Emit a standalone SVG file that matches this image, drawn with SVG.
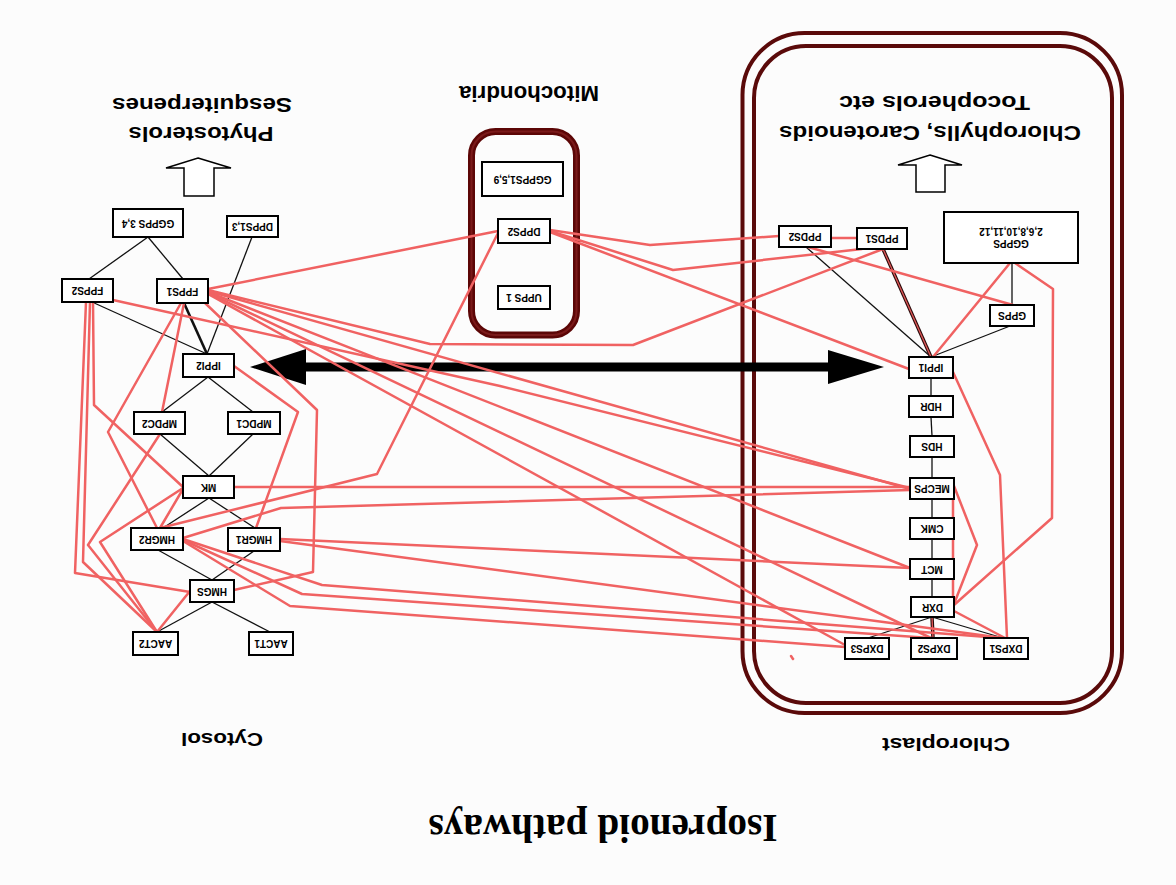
<svg xmlns="http://www.w3.org/2000/svg" width="1176" height="885" viewBox="0 0 1176 885">
  <style>
    .box { fill: #ffffff; stroke: #000000; stroke-width: 2; }
    .lbl { font-family: "Liberation Sans", Arial, sans-serif; font-weight: bold; font-size: 10px; text-anchor: middle; dominant-baseline: central; fill: #000; }
    .big { font-family: "Liberation Sans", Arial, sans-serif; font-weight: bold; text-anchor: middle; dominant-baseline: central; fill: #000; }
    .title { font-family: "Liberation Serif", "Times New Roman", serif; font-weight: bold; font-size: 40px; text-anchor: middle; dominant-baseline: central; fill: #000; }
    .red { fill: none; stroke: #f06262; stroke-width: 2.5; stroke-linejoin: round; stroke-linecap: round; }
    .blk { fill: none; stroke: #111111; stroke-width: 1.3; }
    .blkb { fill: none; stroke: #111111; stroke-width: 2.6; }
    .dual { fill: none; stroke: #2a0a0a; stroke-width: 3.5; }
    .dualin { fill: none; stroke: #e05858; stroke-width: 1.3; }
    .wall { fill: none; stroke: #5a0a0a; stroke-width: 4; }
    .hollow { fill: #ffffff; stroke: #000000; stroke-width: 1.5; stroke-linejoin: miter; }
  </style>

  <rect x="0" y="0" width="1176" height="885" fill="#fcfcfc"/>

  <!-- compartments -->
  <g id="chloroplast">
    <rect class="wall" x="742.5" y="33" width="379.5" height="680" rx="62"/>
    <rect class="wall" x="754" y="46" width="358" height="657" rx="52"/>
  </g>
  <g id="mitochondria">
    <rect x="471.5" y="131.5" width="105" height="203.5" rx="24" fill="none" stroke="#5c0606" stroke-width="7"/>
    <rect x="471.5" y="131.5" width="105" height="203.5" rx="24" fill="none" stroke="#7a1a1a" stroke-width="2"/>
  </g>

  <!-- product arrows -->
  <polygon class="hollow" points="198,158 231,168 214,168 214,196 184,196 184,168 166,168"/>
  <polygon class="hollow" points="930,155 962,165 945,165 945,192 916,192 916,165 898,165"/>

  <!-- exchange arrow between cytosol and plastid -->
  <g id="exchange">
    <line x1="300" y1="367" x2="834" y2="367" stroke="#000" stroke-width="9"/>
    <polygon points="250,367 306,349 306,385" fill="#000"/>
    <polygon points="884,367 828,350 828,384" fill="#000"/>
  </g>

  <!-- connectors -->
  <g id="connectors">
    <!-- cytosol pathway -->
    <line class="blk" x1="148" y1="237" x2="89" y2="279"/>
    <line class="blk" x1="148" y1="237" x2="183" y2="279"/>
    <line class="blk" x1="252" y1="237" x2="207" y2="354"/>
    <line class="blk" x1="92" y1="302" x2="207" y2="354"/>
    <line class="blkb" x1="184" y1="303" x2="207" y2="354"/>
    <line class="blk" x1="208" y1="377" x2="162" y2="412"/>
    <line class="blk" x1="208" y1="377" x2="253" y2="412"/>
    <line class="blk" x1="160" y1="434" x2="209" y2="476"/>
    <line class="blk" x1="253" y1="434" x2="209" y2="476"/>
    <line class="blk" x1="209" y1="498" x2="163" y2="528"/>
    <line class="blk" x1="209" y1="498" x2="255" y2="528"/>
    <line class="blk" x1="158" y1="550" x2="212" y2="580"/>
    <line class="blk" x1="254" y1="551" x2="212" y2="580"/>
    <line class="blk" x1="212" y1="602" x2="157" y2="632"/>
    <line class="blk" x1="212" y1="602" x2="270" y2="632"/>

    <!-- plastid pathway -->
    <line class="blk" x1="931" y1="357" x2="806" y2="247"/>
    <line class="dual" x1="931" y1="357" x2="883" y2="249"/>
    <line class="dualin" x1="931" y1="357" x2="883" y2="249"/>
    <line class="blk" x1="931" y1="357" x2="1010" y2="326"/>
    <line class="blk" x1="1012" y1="305" x2="1012" y2="263"/>
    <line class="blk" x1="931" y1="378" x2="931" y2="396"/>
    <line class="blk" x1="931" y1="417" x2="932" y2="436"/>
    <line class="blk" x1="932" y1="457" x2="932" y2="478"/>
    <line class="blk" x1="932" y1="499" x2="932" y2="518"/>
    <line class="blk" x1="932" y1="539" x2="932" y2="559"/>
    <line class="blk" x1="932" y1="579" x2="932" y2="597"/>
    <line class="blk" x1="932" y1="617" x2="868" y2="638"/>
    <line class="dual" x1="932" y1="617" x2="933" y2="638"/>
    <line class="dualin" x1="932" y1="617" x2="933" y2="638"/>
    <line class="blk" x1="932" y1="617" x2="1003" y2="638"/>

    <!-- cross-talk links -->
    <polyline class="red" points="208,289 498,231"/>
    <polyline class="red" points="208,290 430,344 633,345 883,249"/>
    <polyline class="red" points="113,300 500,386 910,488"/>
    <polyline class="red" points="208,291 910,489"/>
    <polyline class="red" points="208,292 910,568"/>
    <polyline class="red" points="208,293 931,638"/>
    <polyline class="red" points="208,294 845,645"/>
    <polyline class="red" points="205,303 317,410 313,572 234,590"/>
    <polyline class="red" points="234,366 298,412 256,528"/>
    <polyline class="red" points="90,302 83,562 157,632"/>
    <polyline class="red" points="86,302 75,573 190,592"/>
    <polyline class="red" points="93,302 94,405 183,487"/>
    <polyline class="red" points="184,303 162,412"/>
    <polyline class="red" points="181,303 108,432 157,528"/>
    <polyline class="red" points="160,434 88,545 157,632"/>
    <polyline class="red" points="183,488 100,542 157,632"/>
    <polyline class="red" points="183,489 160,528"/>
    <polyline class="red" points="157,632 190,591"/>
    <polyline class="red" points="234,487 910,487"/>
    <polyline class="red" points="183,538 281,508 910,490"/>
    <polyline class="red" points="498,233 377,474 160,528"/>
    <polyline class="red" points="183,539 322,585 1000,638"/>
    <polyline class="red" points="183,540 302,594 930,638"/>
    <polyline class="red" points="183,541 290,606 845,647"/>
    <polyline class="red" points="280,539 910,568"/>
    <polyline class="red" points="280,541 1003,638"/>
    <polyline class="red" points="550,230 650,245 779,236"/>
    <polyline class="red" points="550,231 673,270 862,249"/>
    <polyline class="red" points="550,232 909,369"/>
    <polyline class="red" points="831,238 857,238"/>
    <polyline class="red" points="808,247 1013,305"/>
    <polyline class="red" points="933,357 1010,263"/>
    <polyline class="red" points="1015,263 1053,289 1052,518 954,605"/>
    <polyline class="red" points="953,372 1000,475 1007,638"/>
    <polyline class="red" points="954,486 977,545 954,604"/>
    <polyline class="red" points="953,499 953,597"/>
    <polyline class="red" points="954,611 1005,638"/>
    <polyline class="red" points="791,656 793,659" stroke-width="1.2"/>
  </g>

  <!-- cytosol enzymes -->
  <g id="n-ggpps34"><rect class="box" x="113" y="209" width="70" height="28"/><text class="lbl" x="148" y="223" transform="rotate(180 148 223)">GGPPS 3,4</text></g>
  <g id="n-dpps13"><rect class="box" x="227" y="216" width="51" height="21"/><text class="lbl" x="252.5" y="226.5" transform="rotate(180 252.5 226.5)">DPPS1,3</text></g>
  <g id="n-fpps2"><rect class="box" x="62" y="279" width="51" height="23"/><text class="lbl" x="87.5" y="290.5" transform="rotate(180 87.5 290.5)">FPPS2</text></g>
  <g id="n-fpps1"><rect class="box" x="157" y="279" width="51" height="24"/><text class="lbl" x="182.5" y="291" transform="rotate(180 182.5 291)">FPPS1</text></g>
  <g id="n-ippi2"><rect class="box" x="183" y="354" width="51" height="23"/><text class="lbl" x="208.5" y="365.5" transform="rotate(180 208.5 365.5)">IPPI2</text></g>
  <g id="n-mpdc2"><rect class="box" x="134" y="412" width="51" height="22"/><text class="lbl" x="159.5" y="423" transform="rotate(180 159.5 423)">MPDC2</text></g>
  <g id="n-mpdc1"><rect class="box" x="228" y="412" width="52" height="22"/><text class="lbl" x="254" y="423" transform="rotate(180 254 423)">MPDC1</text></g>
  <g id="n-mk"><rect class="box" x="183" y="476" width="51" height="22"/><text class="lbl" x="208.5" y="487" transform="rotate(180 208.5 487)">MK</text></g>
  <g id="n-hmgr2"><rect class="box" x="131" y="528" width="52" height="22"/><text class="lbl" x="157" y="539" transform="rotate(180 157 539)">HMGR2</text></g>
  <g id="n-hmgr1"><rect class="box" x="228" y="528" width="52" height="23"/><text class="lbl" x="254" y="539.5" transform="rotate(180 254 539.5)">HMGR1</text></g>
  <g id="n-hmgs"><rect class="box" x="190" y="580" width="44" height="22"/><text class="lbl" x="212" y="591" transform="rotate(180 212 591)">HMGS</text></g>
  <g id="n-aact2"><rect class="box" x="133" y="632" width="45" height="23"/><text class="lbl" x="155.5" y="643.5" transform="rotate(180 155.5 643.5)">AACT2</text></g>
  <g id="n-aact1"><rect class="box" x="249" y="632" width="44" height="23"/><text class="lbl" x="271" y="643.5" transform="rotate(180 271 643.5)">AACT1</text></g>

  <!-- mitochondrial enzymes -->
  <g id="n-ggpps159"><rect class="box" x="482" y="162" width="81" height="34"/><text class="lbl" x="522.5" y="179" transform="rotate(180 522.5 179)">GGPPS1,5,9</text></g>
  <g id="n-dpps2"><rect class="box" x="498" y="219" width="52" height="24"/><text class="lbl" x="524" y="231" transform="rotate(180 524 231)">DPPS2</text></g>
  <g id="n-upps1"><rect class="box" x="498" y="286" width="52" height="23"/><text class="lbl" x="524" y="297.5" transform="rotate(180 524 297.5)">UPPS 1</text></g>

  <!-- plastid enzymes -->
  <g id="n-ppds2"><rect class="box" x="779" y="226" width="52" height="21"/><text class="lbl" x="805" y="236.5" transform="rotate(180 805 236.5)">PPDS2</text></g>
  <g id="n-ppds1"><rect class="box" x="857" y="228" width="50" height="21"/><text class="lbl" x="882" y="238.5" transform="rotate(180 882 238.5)">PPDS1</text></g>
  <g id="n-ggpps-pl"><rect class="box" x="944" y="212" width="134" height="51"/><text class="lbl" x="1011" y="243" transform="rotate(180 1011 243)">GGPPS</text><text class="lbl" x="1011" y="231" transform="rotate(180 1011 231)">2,6,8,10,11,12</text></g>
  <g id="n-gpps"><rect class="box" x="990" y="305" width="44" height="21"/><text class="lbl" x="1012" y="315.5" transform="rotate(180 1012 315.5)">GPPS</text></g>
  <g id="n-ippi1"><rect class="box" x="909" y="357" width="44" height="21"/><text class="lbl" x="931" y="367.5" transform="rotate(180 931 367.5)">IPPI1</text></g>
  <g id="n-hdr"><rect class="box" x="909" y="396" width="44" height="21"/><text class="lbl" x="931" y="406.5" transform="rotate(180 931 406.5)">HDR</text></g>
  <g id="n-hds"><rect class="box" x="910" y="436" width="44" height="21"/><text class="lbl" x="932" y="446.5" transform="rotate(180 932 446.5)">HDS</text></g>
  <g id="n-mecps"><rect class="box" x="910" y="478" width="44" height="21"/><text class="lbl" x="932" y="488.5" transform="rotate(180 932 488.5)">MECPS</text></g>
  <g id="n-cmk"><rect class="box" x="910" y="518" width="44" height="21"/><text class="lbl" x="932" y="528.5" transform="rotate(180 932 528.5)">CMK</text></g>
  <g id="n-mct"><rect class="box" x="910" y="559" width="44" height="20"/><text class="lbl" x="932" y="569" transform="rotate(180 932 569)">MCT</text></g>
  <g id="n-dxr"><rect class="box" x="911" y="597" width="43" height="20"/><text class="lbl" x="932.5" y="607" transform="rotate(180 932.5 607)">DXR</text></g>
  <g id="n-dxps3"><rect class="box" x="845" y="638" width="44" height="21"/><text class="lbl" x="867" y="648.5" transform="rotate(180 867 648.5)">DXPS3</text></g>
  <g id="n-dxps2"><rect class="box" x="911" y="638" width="46" height="21"/><text class="lbl" x="934" y="648.5" transform="rotate(180 934 648.5)">DXPS2</text></g>
  <g id="n-dxps1"><rect class="box" x="984" y="638" width="44" height="21"/><text class="lbl" x="1006" y="648.5" transform="rotate(180 1006 648.5)">DXPS1</text></g>

  <!-- headings -->
  <text class="big" font-size="22" x="529" y="93" textLength="140" lengthAdjust="spacingAndGlyphs" transform="rotate(180 529 93)">Mitochondria</text>
  <text class="big" font-size="20" x="201" y="133.5" textLength="145" lengthAdjust="spacingAndGlyphs" transform="rotate(180 201 133.5)">Phytosterols</text>
  <text class="big" font-size="20" x="202" y="105" textLength="180" lengthAdjust="spacingAndGlyphs" transform="rotate(180 202 105)">Sesquiterpenes</text>
  <text class="big" font-size="20" x="930" y="133" textLength="302" lengthAdjust="spacingAndGlyphs" transform="rotate(180 930 133)">Chlorophylls, Carotenoids</text>
  <text class="big" font-size="20" x="934.5" y="103" textLength="191" lengthAdjust="spacingAndGlyphs" transform="rotate(180 934.5 103)">Tocopherols etc</text>
  <text class="big" font-size="18" x="222" y="738.5" textLength="82" lengthAdjust="spacingAndGlyphs" transform="rotate(180 222 738.5)">Cytosol</text>
  <text class="big" font-size="18" x="946" y="744" textLength="128" lengthAdjust="spacingAndGlyphs" transform="rotate(180 946 744)">Chloroplast</text>
  <text class="title" x="603" y="828" textLength="349" lengthAdjust="spacingAndGlyphs" transform="rotate(180 603 828)">Isoprenoid pathways</text>
</svg>
